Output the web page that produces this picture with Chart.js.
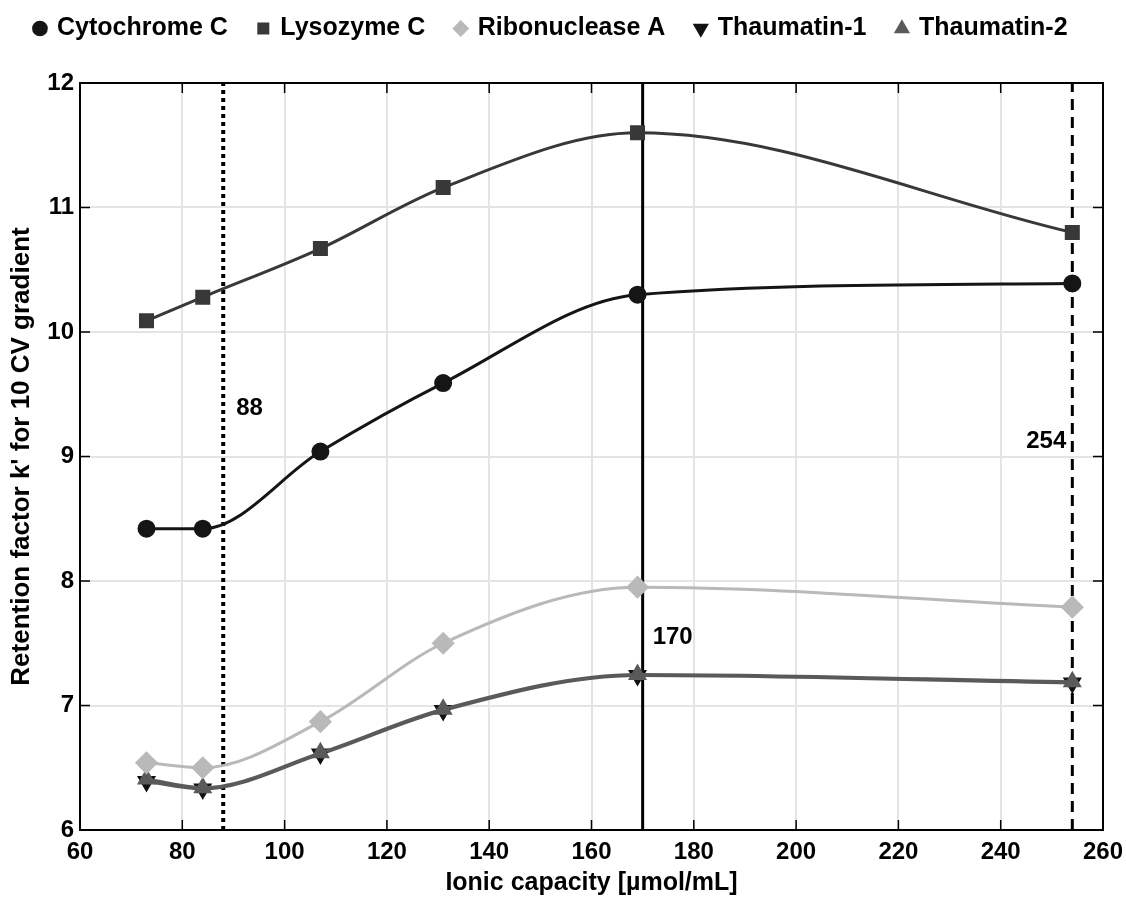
<!DOCTYPE html>
<html>
<head>
<meta charset="utf-8">
<script src="https://cdn.jsdelivr.net/npm/chart.js@4/dist/chart.umd.min.js"></script>
<style>
  html, body { margin: 0; padding: 0; background: #fff; }
  #wrap { width: 1126px; height: 898px; }
</style>
</head>
<body>
<div id="wrap"><canvas id="retentionChart" width="1126" height="898"></canvas></div>
<script>
// ionic capacity of each resin (x values)
const capacity = [73, 84, 107, 131, 169, 254];

// retention factor k' per protein
const cytochromeC   = [8.42, 8.42, 9.04, 9.59, 10.30, 10.39];
const lysozymeC     = [10.09, 10.28, 10.67, 11.16, 11.60, 10.80];
const ribonucleaseA = [6.54, 6.50, 6.87, 7.50, 7.95, 7.79];
const thaumatin1    = [6.39, 6.33, 6.61, 6.96, 7.24, 7.18];
const thaumatin2    = [6.41, 6.34, 6.62, 6.97, 7.25, 7.19];

// reference capacities marked with vertical lines
const markerValues = [88, 170, 254];
const markerLabels = ['88', '170', '254'];
// height of each marker's text (data units)
const markerTextY = [9.39, 7.55, 9.12];

const xTicks = [60, 80, 100, 120, 140, 160, 180, 200, 220, 240, 260];
const yTicks = [6, 7, 8, 9, 10, 11, 12];

const fontFamily = "'Liberation Sans', Arial, sans-serif";

function toPoints(values) {
    return capacity.map(function (c, i) { return { x: c, y: values[i] }; });
}

function verticalLine(value, dash, width) {
    return {
        label: 'line' + value,
        data: [{ x: value, y: 6 }, { x: value, y: 12 }],
        borderColor: '#000',
        borderWidth: width,
        borderDash: dash,
        pointRadius: 0,
        pointHoverRadius: 0,
        order: 10
    };
}

// box frame, inner tick marks and the marker labels
const framePlugin = {
    id: 'frame',
    afterDatasetsDraw: function (chart) {
        const ctx = chart.ctx;
        const area = chart.chartArea;
        const xs = chart.scales.x;
        const ys = chart.scales.y;
        ctx.save();
        ctx.strokeStyle = '#000';
        ctx.lineWidth = 2;
        ctx.strokeRect(area.left, area.top, area.right - area.left, area.bottom - area.top);

        ctx.lineWidth = 1.5;
        ctx.beginPath();
        xTicks.forEach(function (t) {
            const px = xs.getPixelForValue(t);
            ctx.moveTo(px, area.bottom);
            ctx.lineTo(px, area.bottom - 10);
            ctx.moveTo(px, area.top);
            ctx.lineTo(px, area.top + 10);
        });
        yTicks.forEach(function (t) {
            const py = ys.getPixelForValue(t);
            ctx.moveTo(area.left, py);
            ctx.lineTo(area.left + 10, py);
            ctx.moveTo(area.right, py);
            ctx.lineTo(area.right - 10, py);
        });
        ctx.stroke();

        ctx.fillStyle = '#000';
        ctx.font = 'bold 24px ' + fontFamily;
        ctx.textBaseline = 'middle';
        markerValues.forEach(function (v, i) {
            const px = xs.getPixelForValue(v);
            const py = ys.getPixelForValue(markerTextY[i]);
            if (i === 2) {
                ctx.textAlign = 'right';
                ctx.fillText(markerLabels[i], px - 6, py);
            } else {
                ctx.textAlign = 'left';
                ctx.fillText(markerLabels[i], px + (i === 0 ? 13 : 10), py);
            }
        });
        ctx.restore();
    }
};

const ctx = document.getElementById('retentionChart');

new Chart(ctx, {
    type: 'line',
    data: {
        datasets: [
            {
                label: 'Cytochrome C',
                data: toPoints(cytochromeC),
                borderColor: '#151515',
                backgroundColor: '#151515',
                pointStyle: 'circle',
                pointRadius: 7.5,
                borderWidth: 3,
                cubicInterpolationMode: 'monotone',
                order: 2
            },
            {
                label: 'Lysozyme C',
                data: toPoints(lysozymeC),
                borderColor: '#383838',
                backgroundColor: '#383838',
                pointStyle: 'rect',
                pointRadius: 8.5,
                borderWidth: 3,
                cubicInterpolationMode: 'monotone',
                order: 2
            },
            {
                label: 'Ribonuclease A',
                data: toPoints(ribonucleaseA),
                borderColor: '#b9b9b9',
                backgroundColor: '#b9b9b9',
                pointStyle: 'rectRot',
                pointRadius: 9.5,
                borderWidth: 3,
                cubicInterpolationMode: 'monotone',
                order: 2
            },
            {
                label: 'Thaumatin-1',
                data: toPoints(thaumatin1),
                borderColor: '#5a5a5a',
                backgroundColor: '#111111',
                pointBackgroundColor: '#111111',
                pointBorderColor: '#111111',
                pointStyle: 'triangle',
                pointRotation: 180,
                pointRadius: 8,
                borderWidth: 3,
                cubicInterpolationMode: 'monotone',
                order: 4
            },
            {
                label: 'Thaumatin-2',
                data: toPoints(thaumatin2),
                borderColor: '#5a5a5a',
                backgroundColor: '#5a5a5a',
                pointStyle: 'triangle',
                pointRadius: 8,
                borderWidth: 3,
                cubicInterpolationMode: 'monotone',
                order: 3
            },
            verticalLine(markerValues[0], [4, 4], 4),
            verticalLine(markerValues[1], [], 3),
            verticalLine(markerValues[2], [11, 7], 3)
        ]
    },
    options: {
        responsive: false,
        animation: false,
        layout: {
            padding: { top: -15, right: 23, left: 0, bottom: 0 }
        },
        scales: {
            x: {
                type: 'linear',
                min: 60,
                max: 260,
                afterBuildTicks: function (scale) {
                    scale.ticks = xTicks.map(function (v) { return { value: v }; });
                },
                afterFit: function (scale) {
                    scale.height = 68;
                    scale.paddingLeft = 0;
                    scale.paddingRight = 0;
                },
                grid: { color: '#e4e4e4', lineWidth: 2, drawTicks: false },
                border: { display: false },
                ticks: {
                    color: '#000',
                    padding: 8,
                    maxRotation: 0,
                    font: { family: fontFamily, size: 24, weight: 'bold' }
                },
                title: {
                    display: true,
                    text: 'Ionic capacity [µmol/mL]',
                    color: '#000',
                    padding: { top: -3, bottom: 0 },
                    font: { family: fontFamily, size: 25, weight: 'bold' }
                }
            },
            // empty top axis, only keeps a gap between legend and plot
            xTop: {
                type: 'linear',
                position: 'top',
                min: 60,
                max: 260,
                display: true,
                grid: { display: false, drawTicks: false },
                border: { display: false },
                ticks: { display: false },
                afterFit: function (scale) {
                    scale.height = 32;
                    scale.paddingLeft = 0;
                    scale.paddingRight = 0;
                }
            },
            y: {
                type: 'linear',
                min: 6,
                max: 12,
                afterBuildTicks: function (scale) {
                    scale.ticks = yTicks.map(function (v) { return { value: v }; });
                },
                afterFit: function (scale) { scale.width = 80; },
                grid: { color: '#e4e4e4', lineWidth: 2, drawTicks: false },
                border: { display: false },
                ticks: {
                    color: '#000',
                    padding: 6,
                    font: { family: fontFamily, size: 24, weight: 'bold' }
                },
                title: {
                    display: true,
                    text: "Retention factor k' for 10 CV gradient",
                    color: '#000',
                    padding: { top: 6, bottom: 0 },
                    font: { family: fontFamily, size: 26, weight: 'bold' }
                }
            }
        },
        plugins: {
            legend: {
                position: 'top',
                labels: {
                    usePointStyle: true,
                    boxWidth: 9,
                    boxHeight: 9,
                    padding: 31,
                    color: '#000',
                    font: { family: fontFamily, size: 25, weight: 'bold' },
                    filter: function (item) { return item.datasetIndex < 5; },
                    sort: function (a, b) { return a.datasetIndex - b.datasetIndex; }
                }
            },
            tooltip: { enabled: false }
        }
    },
    plugins: [framePlugin]
});
</script>
</body>
</html>
